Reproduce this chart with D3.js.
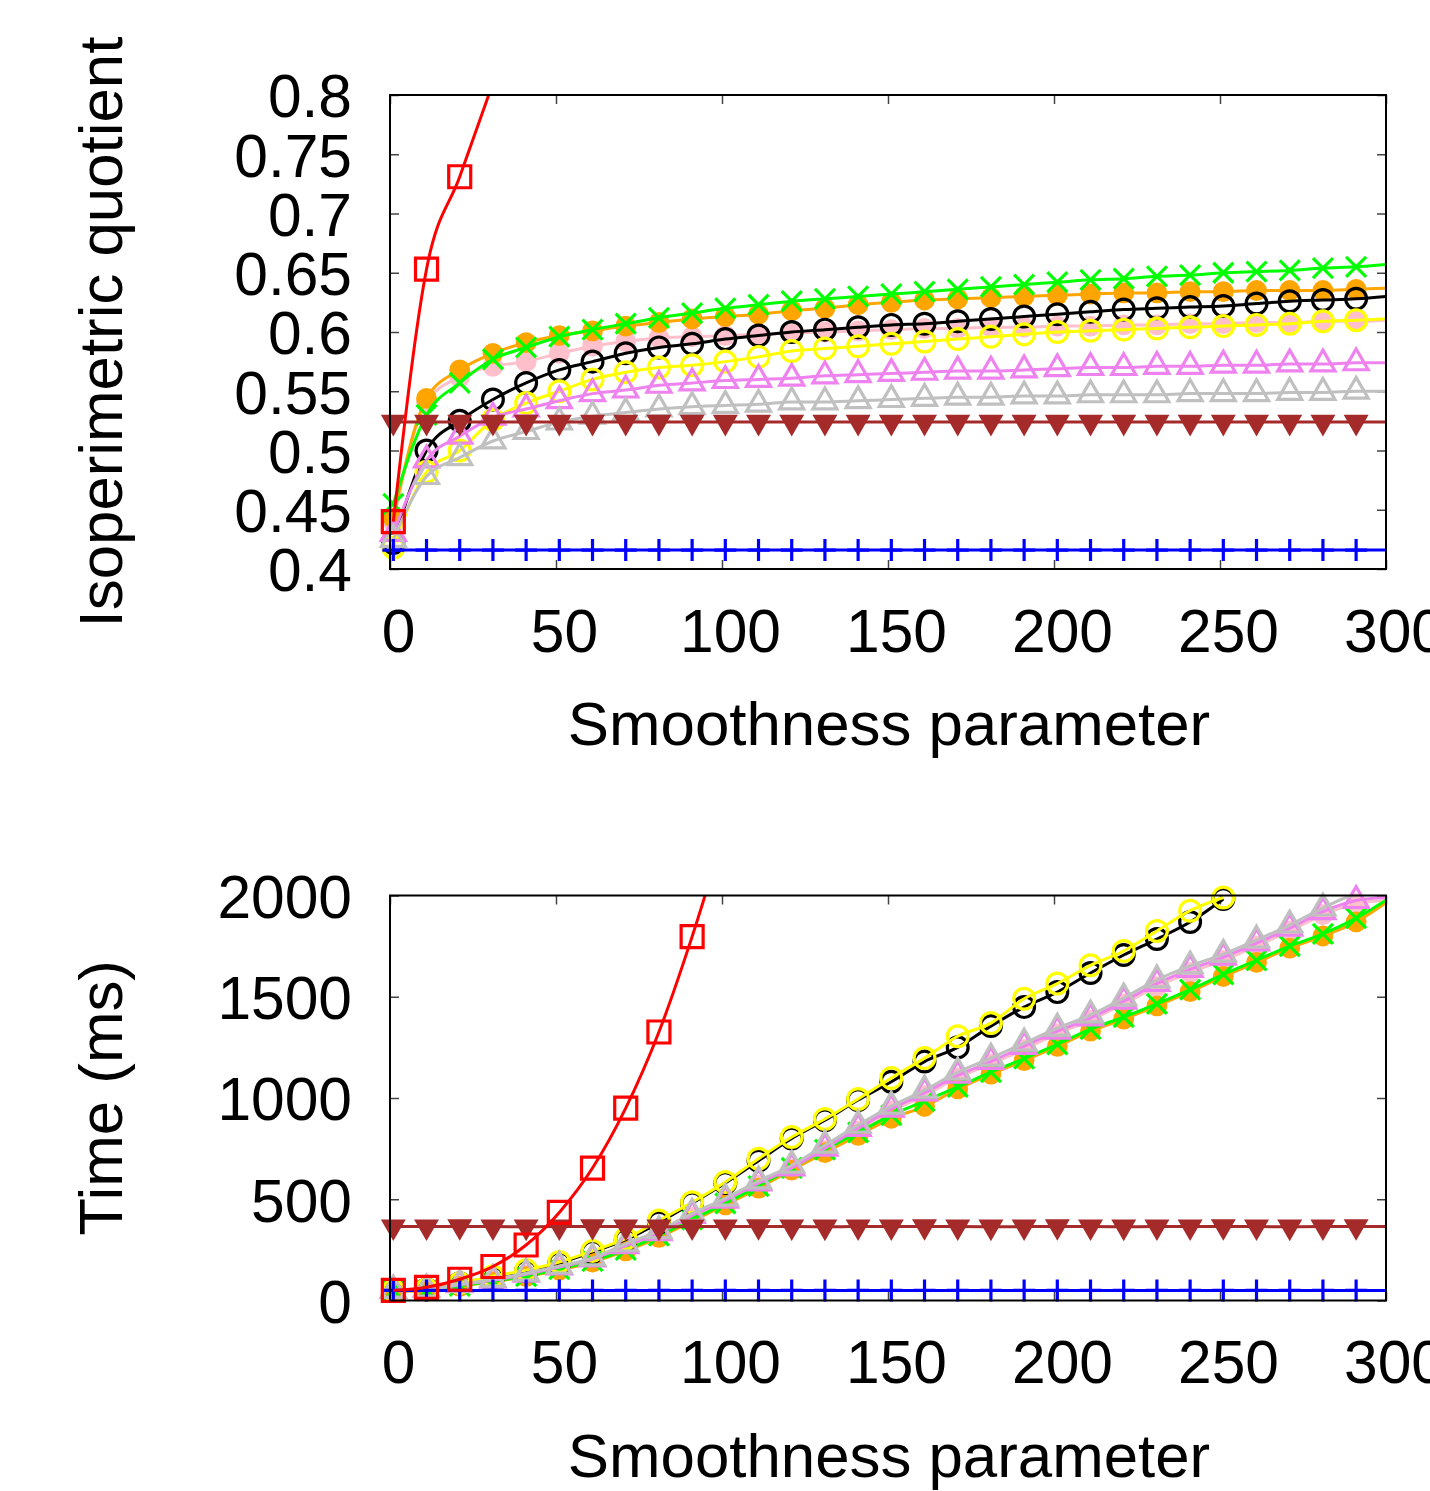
<!DOCTYPE html>
<html>
<head>
<meta charset="utf-8">
<script src="https://cdn.jsdelivr.net/npm/d3@7"></script>
<style>
  body { margin: 0; background: #fff; }
  text { font-family: "Liberation Sans", Arial, sans-serif; }
</style>
</head>
<body>
<div id="chart"></div>
<script>
// x positions of the samples (smoothness parameter), last one is the line end
const smooth = [1, 11, 21, 31, 41, 51, 61, 71, 81, 91, 101, 111, 121, 131, 141, 151,
  161, 171, 181, 191, 201, 211, 221, 231, 241, 251, 261, 271, 281, 291, 300];

// tick labels
const smoothTicks = [0, 50, 100, 150, 200, 250, 300];
const iqTicks = [0.4, 0.45, 0.5, 0.55, 0.6, 0.65, 0.7, 0.75, 0.8];
const timeTicks = [0, 500, 1000, 1500, 2000];

// top panel: isoperimetric quotient
const iqRed = [0.44, 0.653, 0.731, 0.81];
const iqOrange = [0.443, 0.544, 0.568, 0.582, 0.591, 0.597, 0.601, 0.605, 0.608, 0.611, 0.613, 0.615, 0.618, 0.62, 0.623, 0.625, 0.627, 0.628, 0.629, 0.63, 0.631, 0.632, 0.633, 0.633, 0.634, 0.634, 0.635, 0.635, 0.635, 0.636, 0.637];
const iqGreen = [0.455, 0.53, 0.557, 0.577, 0.587, 0.596, 0.602, 0.607, 0.612, 0.616, 0.62, 0.623, 0.626, 0.628, 0.63, 0.632, 0.634, 0.636, 0.638, 0.64, 0.642, 0.644, 0.645, 0.647, 0.648, 0.65, 0.651, 0.652, 0.654, 0.655, 0.657];
const iqPink = [0.44, 0.541, 0.562, 0.571, 0.575, 0.582, 0.588, 0.592, 0.595, 0.596, 0.597, 0.598, 0.599, 0.6, 0.601, 0.602, 0.603, 0.603, 0.604, 0.604, 0.605, 0.605, 0.606, 0.606, 0.607, 0.607, 0.608, 0.608, 0.609, 0.609, 0.61];
const iqBlack = [0.422, 0.5, 0.525, 0.543, 0.557, 0.568, 0.575, 0.582, 0.587, 0.59, 0.594, 0.597, 0.6, 0.602, 0.604, 0.606, 0.607, 0.609, 0.611, 0.613, 0.615, 0.617, 0.619, 0.62, 0.621, 0.622, 0.624, 0.626, 0.627, 0.628, 0.63];
const iqYellow = [0.418, 0.482, 0.5, 0.526, 0.54, 0.55, 0.56, 0.566, 0.57, 0.572, 0.575, 0.579, 0.584, 0.586, 0.588, 0.59, 0.592, 0.594, 0.596, 0.598, 0.6, 0.601, 0.602, 0.603, 0.604, 0.605, 0.606, 0.607, 0.609, 0.61, 0.611];
const iqViolet = [0.43, 0.492, 0.512, 0.528, 0.535, 0.542, 0.548, 0.551, 0.555, 0.557, 0.559, 0.56, 0.561, 0.563, 0.564, 0.565, 0.566, 0.567, 0.567, 0.568, 0.569, 0.57, 0.57, 0.571, 0.571, 0.572, 0.572, 0.573, 0.573, 0.574, 0.574];
const iqGray = [0.425, 0.478, 0.494, 0.508, 0.516, 0.524, 0.529, 0.532, 0.535, 0.537, 0.538, 0.539, 0.541, 0.541, 0.542, 0.543, 0.544, 0.545, 0.545, 0.546, 0.546, 0.547, 0.547, 0.547, 0.548, 0.548, 0.548, 0.549, 0.549, 0.55, 0.55];
const iqBrown = [0.524, 0.524, 0.524, 0.524, 0.524, 0.524, 0.524, 0.524, 0.524, 0.524, 0.524, 0.524, 0.524, 0.524, 0.524, 0.524, 0.524, 0.524, 0.524, 0.524, 0.524, 0.524, 0.524, 0.524, 0.524, 0.524, 0.524, 0.524, 0.524, 0.524, 0.524];
const iqBlue = [0.416, 0.416, 0.416, 0.416, 0.416, 0.416, 0.416, 0.416, 0.416, 0.416, 0.416, 0.416, 0.416, 0.416, 0.416, 0.416, 0.416, 0.416, 0.416, 0.416, 0.416, 0.416, 0.416, 0.416, 0.416, 0.416, 0.416, 0.416, 0.416, 0.416, 0.416];

// bottom panel: time in ms
const tmRed = [50, 65, 105, 168, 274, 435, 654, 950, 1326, 1797, 2330];
const tmOrange = [45, 48, 70, 92, 118, 150, 190, 245, 312, 392, 472, 555, 645, 730, 815, 900, 958, 1045, 1118, 1185, 1255, 1330, 1390, 1455, 1525, 1600, 1670, 1740, 1800, 1870, 1965];
const tmGreen = [50, 50, 72, 95, 120, 155, 195, 250, 320, 400, 480, 565, 655, 745, 830, 915, 985, 1055, 1128, 1195, 1265, 1340, 1400, 1465, 1535, 1610, 1680, 1750, 1810, 1888, 1977];
const tmPink = [50, 52, 75, 98, 125, 160, 200, 262, 325, 410, 485, 570, 645, 740, 838, 935, 1012, 1100, 1168, 1240, 1318, 1385, 1465, 1550, 1620, 1680, 1750, 1825, 1905, 1960, 1975];
const tmBlack = [50, 55, 85, 115, 145, 185, 240, 300, 385, 480, 580, 690, 800, 890, 990, 1080, 1180, 1250, 1355, 1449, 1523, 1617, 1706, 1785, 1869, 1983];
const tmYellow = [50, 55, 85, 120, 150, 190, 245, 305, 395, 485, 585, 700, 807, 896, 995, 1099, 1197, 1305, 1370, 1490, 1565, 1655, 1726, 1825, 1925, 1990];
const tmViolet = [50, 55, 78, 100, 130, 165, 205, 270, 335, 420, 495, 580, 655, 752, 850, 945, 1025, 1112, 1180, 1255, 1330, 1395, 1478, 1565, 1635, 1695, 1765, 1838, 1920, 1975, 1990];
const tmGray = [50, 55, 80, 105, 135, 170, 210, 280, 345, 430, 505, 590, 668, 767, 866, 960, 1039, 1128, 1197, 1271, 1345, 1410, 1494, 1583, 1652, 1710, 1780, 1854, 1938, 2003, 2010];
const tmBrown = [365, 365, 366, 365, 364, 365, 366, 365, 364, 365, 365, 366, 365, 364, 365, 365, 366, 365, 364, 365, 366, 365, 364, 365, 365, 366, 365, 364, 365, 366, 365];
const tmBlue = [50, 50, 50, 50, 50, 50, 50, 50, 50, 50, 50, 50, 50, 50, 50, 50, 50, 50, 50, 50, 50, 50, 50, 50, 50, 50, 50, 50, 50, 50, 50];

var width = 1430, height = 1491;
var tickFont = 60.5, titleFont = 61.8;

const svg = d3.select("#chart")
  .append("svg")
  .attr("width", width)
  .attr("height", height)
  .style("background", "#fff");

// marker paths, centred on 0,0
function markerPath(kind) {
  if (kind === "circle" || kind === "dot") return d3.symbol(d3.symbolCircle, 340)();
  if (kind === "square") return "M-11,-11H11V11H-11Z";
  if (kind === "triUp") return d3.symbol(d3.symbolTriangle, 250)();
  if (kind === "triDown") return d3.symbol(d3.symbolTriangle, 270)();
  if (kind === "cross") return "M-10,-10L10,10M-10,10L10,-10";
  if (kind === "plus") return "M-11,0H11M0,-11V11";
}

function drawPanel(cfg) {
  const left = 390, right = 1386;
  const x = d3.scaleLinear().domain([0, 300]).range([left, right]);
  const y = d3.scaleLinear().domain(cfg.domain).range([cfg.bottom, cfg.top]);
  const g = svg.append("g");

  const clipId = "clip-" + cfg.id;
  svg.append("clipPath").attr("id", clipId)
    .append("rect")
    .attr("x", left).attr("y", cfg.top)
    .attr("width", right - left).attr("height", cfg.bottom - cfg.top);

  // axes with inward ticks, mirrored on all sides
  const yAxis = g.append("g")
    .attr("transform", `translate(${left},0)`)
    .call(d3.axisLeft(y).tickValues(cfg.ticks).tickSize(-9).tickPadding(38).tickFormat(d => `${d}`));
  g.append("g")
    .attr("transform", `translate(${right},0)`)
    .call(d3.axisRight(y).tickValues(cfg.ticks).tickSize(-9).tickFormat(""));
  const xAxis = g.append("g")
    .attr("transform", `translate(0,${cfg.bottom})`)
    .call(d3.axisBottom(x).tickValues(smoothTicks).tickSize(-9).tickPadding(40).tickFormat(d => `${d}`));
  g.append("g")
    .attr("transform", `translate(0,${cfg.top})`)
    .call(d3.axisTop(x).tickValues(smoothTicks).tickSize(-9).tickFormat(""));

  g.selectAll(".domain").remove();
  g.selectAll(".tick line").attr("stroke", "#444").attr("stroke-width", 1.5);
  g.selectAll(".tick text").attr("font-size", tickFont).attr("fill", "#000")
    .attr("font-family", "Liberation Sans, Arial, sans-serif");
  yAxis.selectAll(".tick text").attr("dy", "0.36em");
  xAxis.selectAll(".tick text").attr("x", 8);

  // series
  const line = d3.line()
    .defined(d => d.v != null)
    .x(d => x(d.x))
    .y(d => y(d.v))
    .curve(d3.curveMonotoneX);

  cfg.series.forEach(s => {
    const pts = s.values.map((v, i) => ({ x: smooth[i], v: v }));
    g.append("path")
      .datum(pts)
      .attr("clip-path", `url(#${clipId})`)
      .attr("fill", "none")
      .attr("stroke", s.color)
      .attr("stroke-width", 3)
      .attr("d", line);

    const filled = s.marker === "dot" || s.marker === "triDown";
    g.selectAll(null)
      .data(pts.filter(d => d.x < 295 && d.v >= cfg.domain[0] && d.v <= cfg.domain[1]))
      .enter()
      .append("path")
      .attr("transform", d => `translate(${x(d.x)},${y(d.v)})` + (s.marker === "triDown" ? " rotate(180)" : ""))
      .attr("d", markerPath(s.marker))
      .attr("fill", filled ? s.color : "none")
      .attr("stroke", filled ? "none" : s.color)
      .attr("stroke-width", 3.2);
  });

  // frame
  g.append("rect")
    .attr("x", left).attr("y", cfg.top)
    .attr("width", right - left).attr("height", cfg.bottom - cfg.top)
    .attr("fill", "none").attr("stroke", "#000").attr("stroke-width", 2);

  // axis titles
  g.append("text")
    .attr("transform", `translate(122,${(cfg.top + cfg.bottom) / 2}) rotate(-90)`)
    .attr("text-anchor", "middle")
    .attr("font-size", titleFont)
    .text(cfg.yTitle);
  g.append("text")
    .attr("x", 889)
    .attr("y", cfg.bottom + 176)
    .attr("text-anchor", "middle")
    .attr("font-size", titleFont)
    .text("Smoothness parameter");
}

drawPanel({
  id: "iq", top: 95, bottom: 569, domain: [0.4, 0.8], ticks: iqTicks,
  yTitle: "Isoperimetric quotient",
  series: [
    { values: iqPink, color: "#ffc0cb", marker: "dot" },
    { values: iqOrange, color: "#ffa500", marker: "dot" },
    { values: iqGreen, color: "#00ff00", marker: "cross" },
    { values: iqBlack, color: "#000000", marker: "circle" },
    { values: iqYellow, color: "#ffff00", marker: "circle" },
    { values: iqViolet, color: "#ee82ee", marker: "triUp" },
    { values: iqGray, color: "#c0c0c0", marker: "triUp" },
    { values: iqBrown, color: "#a52a2a", marker: "triDown" },
    { values: iqBlue, color: "#0000ff", marker: "plus" },
    { values: iqRed, color: "#ff0000", marker: "square" }
  ]
});

drawPanel({
  id: "tm", top: 895.5, bottom: 1300.5, domain: [0, 2000], ticks: timeTicks,
  yTitle: "Time (ms)",
  series: [
    { values: tmPink, color: "#ffc0cb", marker: "dot" },
    { values: tmOrange, color: "#ffa500", marker: "dot" },
    { values: tmGreen, color: "#00ff00", marker: "cross" },
    { values: tmBlack, color: "#000000", marker: "circle" },
    { values: tmYellow, color: "#ffff00", marker: "circle" },
    { values: tmViolet, color: "#ee82ee", marker: "triUp" },
    { values: tmGray, color: "#c0c0c0", marker: "triUp" },
    { values: tmBrown, color: "#a52a2a", marker: "triDown" },
    { values: tmBlue, color: "#0000ff", marker: "plus" },
    { values: tmRed, color: "#ff0000", marker: "square" }
  ]
});
</script>
</body>
</html>
